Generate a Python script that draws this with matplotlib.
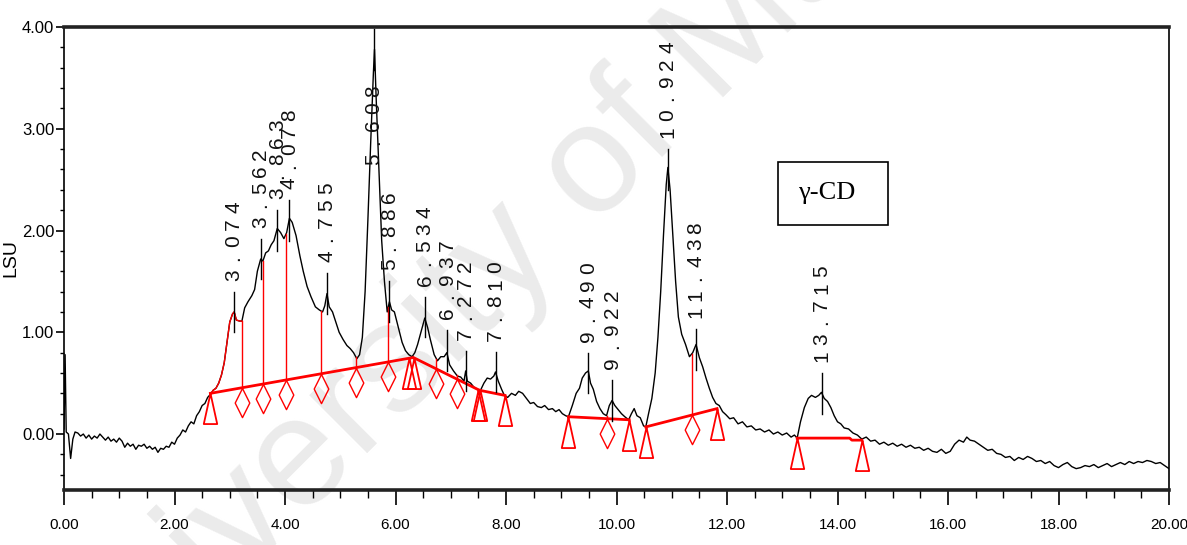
import numpy as np
import matplotlib
matplotlib.use("Agg")
import matplotlib.pyplot as plt
from matplotlib.patches import Rectangle
from matplotlib.ticker import MultipleLocator, FormatStrFormatter

# chromatogram trace (time in min, signal in LSU)
trace_t = [0.00, 0.02, 0.04, 0.08, 0.12, 0.16, 0.20, 0.25, 0.30, 0.35, 0.40, 0.45, 0.50, 0.55,
           0.60, 0.65, 0.70, 0.75, 0.80, 0.85, 0.90, 0.95, 1.00, 1.05, 1.10, 1.15, 1.20, 1.25,
           1.30, 1.35, 1.40, 1.45, 1.50, 1.55, 1.60, 1.65, 1.70, 1.75, 1.80, 1.85, 1.90, 1.95,
           2.00, 2.05, 2.10, 2.15, 2.20, 2.25, 2.30, 2.35, 2.40, 2.45, 2.50, 2.55, 2.60, 2.65,
           2.70, 2.75, 2.80, 2.85, 2.90, 2.95, 3.00, 3.05, 3.08, 3.12, 3.18, 3.22,
           3.27, 3.33, 3.40, 3.45, 3.50, 3.56, 3.60, 3.65, 3.70, 3.75, 3.80, 3.86, 3.92, 3.98,
           4.03, 4.08, 4.13, 4.20, 4.27, 4.33, 4.40, 4.47, 4.55, 4.62, 4.68, 4.72, 4.76, 4.80,
           4.86, 4.92, 4.98, 5.05, 5.12, 5.18, 5.24, 5.30, 5.35, 5.40, 5.45, 5.50, 5.55, 5.60,
           5.62, 5.65, 5.70, 5.75, 5.80, 5.85, 5.89, 5.93, 5.98, 6.05, 6.12, 6.18, 6.24, 6.30,
           6.35, 6.40, 6.47, 6.53, 6.58, 6.63, 6.70, 6.76, 6.82, 6.88, 6.93, 6.98, 7.05, 7.12,
           7.18, 7.24, 7.27, 7.30, 7.36, 7.42, 7.48, 7.53, 7.60, 7.66, 7.72, 7.78, 7.81, 7.86,
           7.92, 7.97, 8.03, 8.10, 8.17, 8.23, 8.30, 8.37, 8.44, 8.50, 8.57, 8.64, 8.70, 8.77,
           8.84, 8.90, 8.96, 9.02, 9.08, 9.13, 9.20, 9.27, 9.33, 9.38, 9.44, 9.49, 9.53, 9.58,
           9.64, 9.70, 9.76, 9.82, 9.87, 9.92, 9.97, 10.03, 10.09, 10.15, 10.22, 10.27, 10.32,
           10.37, 10.43, 10.49, 10.53, 10.58, 10.64, 10.70, 10.75, 10.80, 10.85, 10.90, 10.93,
           10.97, 11.02, 11.07, 11.12, 11.18, 11.25, 11.32, 11.38, 11.44, 11.50, 11.56, 11.62,
           11.68, 11.74, 11.80, 11.86, 11.92, 11.98, 12.05, 12.12, 12.20, 12.28, 12.36, 12.44,
           12.52, 12.60, 12.68, 12.76, 12.84, 12.92, 13.00, 13.08, 13.16, 13.22, 13.27, 13.33,
           13.40, 13.47, 13.53, 13.60, 13.66, 13.71, 13.76, 13.82, 13.88, 13.94, 14.00, 14.06,
           14.12, 14.20, 14.28, 14.36, 14.44, 14.52, 14.60, 14.68, 14.76, 14.84, 14.92, 15.00,
           15.08, 15.16, 15.24, 15.32, 15.40, 15.48, 15.56, 15.64, 15.72, 15.80, 15.88, 15.96,
           16.04, 16.12, 16.20, 16.28, 16.34, 16.40, 16.48, 16.56, 16.64, 16.72, 16.80, 16.88,
           16.96, 17.04, 17.12, 17.20, 17.28, 17.36, 17.44, 17.52, 17.60, 17.68, 17.76, 17.84,
           17.92, 18.00, 18.08, 18.16, 18.24, 18.32, 18.40, 18.48, 18.56, 18.64, 18.72, 18.80,
           18.88, 18.96, 19.04, 19.12, 19.20, 19.28, 19.36, 19.44, 19.52, 19.60, 19.68, 19.76,
           19.84, 19.92, 20.00]
trace_y = [0.05, 0.78, 0.02, 0.00, -0.24, -0.05, 0.02, 0.01, -0.02, 0.00, -0.04, -0.01, -0.05, -0.02,
           -0.04, 0.00, -0.03, -0.06, -0.03, -0.07, -0.05, -0.08, -0.04, -0.07, -0.13, -0.09, -0.12, -0.10,
           -0.15, -0.11, -0.12, -0.10, -0.14, -0.12, -0.15, -0.13, -0.18, -0.14, -0.15, -0.12, -0.13, -0.08,
           -0.10, -0.04, -0.01, 0.04, 0.02, 0.08, 0.12, 0.10, 0.18, 0.22, 0.28, 0.30, 0.36, 0.39,
           0.43, 0.45, 0.50, 0.58, 0.70, 0.90, 1.10, 1.18, 1.20, 1.12, 1.11, 1.11,
           1.24, 1.30, 1.36, 1.42, 1.60, 1.72, 1.70, 1.78, 1.80, 1.86, 1.90, 2.02, 1.98, 1.92,
           1.98, 2.12, 2.08, 1.95, 1.75, 1.60, 1.45, 1.35, 1.25, 1.22, 1.20, 1.26, 1.38, 1.25,
           1.20, 1.10, 1.00, 0.93, 0.87, 0.84, 0.80, 0.74, 0.78, 0.95, 1.40, 2.10, 2.85, 3.55,
           3.78, 3.30, 2.60, 1.90, 1.50, 1.20, 1.30, 1.22, 1.20, 1.05, 0.90, 0.82, 0.78, 0.76,
           0.80, 0.88, 1.02, 1.14, 1.05, 0.93, 0.78, 0.72, 0.76, 0.76, 0.80, 0.68, 0.62, 0.57,
           0.56, 0.52, 0.62, 0.52, 0.50, 0.46, 0.44, 0.42, 0.50, 0.55, 0.54, 0.57, 0.61, 0.52,
           0.44, 0.38, 0.36, 0.40, 0.38, 0.42, 0.40, 0.35, 0.30, 0.31, 0.27, 0.26, 0.28, 0.24,
           0.25, 0.22, 0.24, 0.20, 0.18, 0.17, 0.28, 0.40, 0.45, 0.55, 0.60, 0.62, 0.50, 0.44,
           0.32, 0.25, 0.20, 0.18, 0.28, 0.33, 0.28, 0.24, 0.20, 0.17, 0.14, 0.20, 0.25,
           0.18, 0.16, 0.08, 0.07, 0.20, 0.35, 0.60, 0.95, 1.40, 1.95, 2.45, 2.62,
           2.40, 1.95, 1.50, 1.15, 0.98, 0.88, 0.76, 0.80, 0.88, 0.75, 0.66, 0.55,
           0.45, 0.36, 0.30, 0.28, 0.22, 0.19, 0.15, 0.16, 0.10, 0.12, 0.07, 0.08,
           0.04, 0.05, 0.02, 0.04, 0.00, 0.02, -0.01, 0.01, -0.03, -0.01, -0.04, 0.12,
           0.26, 0.35, 0.38, 0.36, 0.38, 0.41, 0.35, 0.32, 0.26, 0.18, 0.12, 0.10,
           0.06, 0.05, 0.01, -0.01, -0.05, -0.03, -0.07, -0.06, -0.10, -0.08, -0.11, -0.09,
           -0.12, -0.10, -0.13, -0.11, -0.14, -0.13, -0.16, -0.14, -0.17, -0.18, -0.15, -0.19,
           -0.17, -0.10, -0.06, -0.08, -0.03, -0.06, -0.07, -0.10, -0.13, -0.16, -0.15, -0.19,
           -0.20, -0.23, -0.22, -0.26, -0.23, -0.25, -0.22, -0.24, -0.27, -0.26, -0.29, -0.27,
           -0.31, -0.33, -0.30, -0.28, -0.32, -0.34, -0.33, -0.31, -0.32, -0.30, -0.33, -0.31,
           -0.29, -0.32, -0.30, -0.28, -0.30, -0.27, -0.29, -0.27, -0.28, -0.26, -0.27, -0.29,
           -0.28, -0.31, -0.34]

# labelled peaks: retention time and apex height
peak_rt = ["3.074", "3.562", "3.863", "4.078", "4.755", "5.608", "5.886", "6.534",
           "6.937", "7.272", "7.810", "9.490", "9.922", "10.924", "11.438", "13.715"]
peak_h = [1.20, 1.72, 2.00, 2.10, 1.38, 3.78, 1.30, 1.15,
          0.82, 0.62, 0.61, 0.60, 0.33, 2.60, 0.83, 0.40]

# integration baselines
base_t = [[2.65, 6.30], [6.33, 7.52], [7.52, 7.98], [9.13, 10.23], [10.53, 11.82],
          [13.27, 14.22, 14.26, 14.44]]
base_y = [[0.40, 0.75], [0.75, 0.43], [0.43, 0.38], [0.17, 0.14], [0.07, 0.25],
          [-0.04, -0.04, -0.06, -0.06]]

# valley markers (triangles = start/end, diamonds = drop lines)
tri_t = [2.65, 6.25, 6.33, 7.50, 7.53, 7.98, 9.13, 10.23, 10.53, 11.82, 13.27, 14.44]
tri_y = [0.40, 0.745, 0.75, 0.435, 0.43, 0.38, 0.17, 0.14, 0.07, 0.25, -0.04, -0.06]
dia_t = [3.22, 3.60, 4.02, 4.66, 5.28, 5.87, 6.74, 7.11, 9.82, 11.36]
dia_y = [0.455, 0.49, 0.53, 0.59, 0.65, 0.71, 0.64, 0.54, 0.15, 0.19]

red_part = (2.65, 3.22)

SANS = ["Liberation Sans", "DejaVu Sans"]

fig = plt.figure(figsize=(11.87, 5.45), dpi=100)
fig.text(0.46, 0.6, "University of Malaya", rotation=45, fontsize=112,
         color="#ebebeb", ha="center", va="center", family=SANS, zorder=-1)
ax = fig.add_axes([64 / 1187, 55 / 545, 1105 / 1187, 463 / 545])
ax.set_facecolor("none")

t = np.array(trace_t)
y = np.array(trace_y)
ax.plot(t, y, color="black", lw=1.0, zorder=3)
m = (t >= red_part[0]) & (t <= red_part[1])
ax.plot(t[m], y[m], color="red", lw=1.0, zorder=4)

for bt, by in zip(base_t, base_y):
    ax.plot(bt, by, color="red", lw=2.0, zorder=4)

# drop lines from baseline up to the trace
for dt, dy in zip(dia_t, dia_y):
    ax.plot([dt, dt], [dy, np.interp(dt, t, y)], color="red", lw=1.0, zorder=4)

tri = [(0, 0), (-0.22, -1), (0.22, -1), (0, 0)]
dia = [(0, 0), (-0.25, -0.5), (0, -1), (0.25, -0.5), (0, 0)]
ax.plot(tri_t, tri_y, ls="none", marker=tri, ms=44, mfc="none", mec="red", mew=1.3, zorder=4)
ax.plot(dia_t, dia_y, ls="none", marker=dia, ms=42, mfc="none", mec="red", mew=1.0, zorder=4)

# peak ticks + spaced vertical labels
pitch = 12.2
for rt, h in zip(peak_rt, peak_h):
    x = float(rt)
    ax.plot([x, x], [h - 0.2, h + 0.2], color="black", lw=1.0, zorder=5)
    n = len(rt)
    if h + 0.28 + n * pitch / 72 * 100 / 102 > 4.0:
        y0, offs = 3.45, [-(n - i - 0.5) * pitch for i in range(n)]
    else:
        y0, offs = h + 0.2, [6 + (i + 0.5) * pitch for i in range(n)]
    for ch, o in zip(rt, offs):
        ax.annotate(ch, xy=(x, y0), xytext=(0, o), textcoords="offset points",
                    rotation=90, ha="center", va="center", fontsize=15,
                    family=SANS, color="#111111", zorder=6)

# compound box
ax.add_patch(Rectangle((0.646, 0.572), 0.1, 0.136, transform=ax.transAxes,
                       fill=False, ec="black", lw=1.2, zorder=6))
ax.text(0.664, 0.641, "γ-CD", transform=ax.transAxes, fontsize=19,
        family=["Liberation Serif", "DejaVu Serif"], va="center", ha="left", zorder=6)

ax.set_xlim(0, 20)
ax.set_ylim(-0.55, 4.0)
ax.xaxis.set_major_locator(MultipleLocator(2))
ax.xaxis.set_minor_locator(MultipleLocator(0.5))
ax.yaxis.set_major_locator(MultipleLocator(1))
ax.yaxis.set_minor_locator(MultipleLocator(0.2))
ax.xaxis.set_major_formatter(FormatStrFormatter("%.2f"))
ax.yaxis.set_major_formatter(FormatStrFormatter("%.2f"))
ax.tick_params(axis="x", which="major", length=11, width=1.2, direction="out", pad=9)
ax.tick_params(axis="x", which="minor", length=6, width=1.0, direction="out")
ax.tick_params(axis="y", which="major", length=6, width=1.2, direction="out", pad=1)
ax.tick_params(axis="y", which="minor", length=3, width=1.0, direction="out")
for lab in ax.get_xticklabels():
    lab.set_family(SANS)
    lab.set_fontsize(11)
for lab in ax.get_yticklabels():
    lab.set_family(SANS)
    lab.set_fontsize(12)
ax.set_ylabel("LSU", fontsize=14, family=SANS)
ax.yaxis.set_label_coords(-0.04, 0.5)

for s in ("top", "bottom"):
    ax.spines[s].set_linewidth(2.6)
    ax.spines[s].set_color("#222222")
for s in ("left", "right"):
    ax.spines[s].set_linewidth(1.2)

fig.savefig("out.png", dpi=100)
